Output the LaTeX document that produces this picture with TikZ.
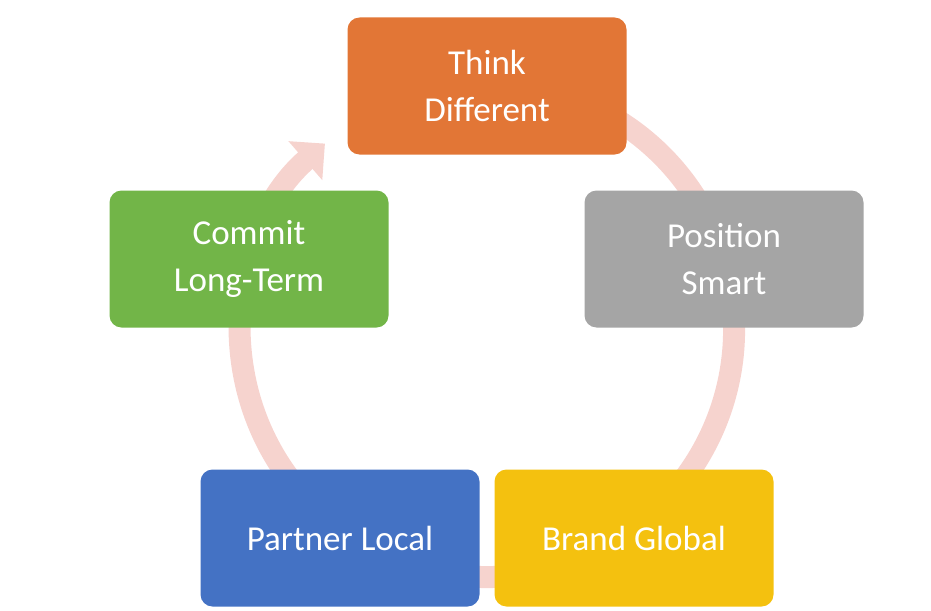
\documentclass[tikz,border=0pt]{standalone}
\usepackage{fontspec}
\setmainfont{Carlito}
\usetikzlibrary{arrows.meta}
\definecolor{ringpink}{HTML}{F6D3CE}
\definecolor{thinkorange}{HTML}{E27636}
\definecolor{positiongray}{HTML}{A5A5A5}
\definecolor{brandyellow}{HTML}{F4C10F}
\definecolor{partnerblue}{HTML}{4472C4}
\definecolor{commitgreen}{HTML}{72B548}
\tikzset{
  stepcard/.style={rounded corners=12pt, minimum width=279pt, minimum height=137pt,
    text=white, align=center, font=\fontsize{35}{47}\selectfont, inner sep=0pt},
  ring/.style={ringpink, line width=22pt, -{Triangle[length=26pt,width=50pt]}}
}
\begin{document}
\begin{tikzpicture}[x=1pt, y=-1pt]
	\useasboundingbox (0,0) rectangle (931,610);

	% Ring behind the cards
	\coordinate (hub) at (487,330);
	\draw[ring] ([shift={(-110:247)}]hub) arc[start angle=-110, end angle=229, radius=247];

	% Cards
	\node[stepcard, fill=thinkorange]  (think)    at (487,86)  {Think\\Different};
	\node[stepcard, fill=positiongray] (position) at (724,259) {Position\\Smart};
	\node[stepcard, fill=brandyellow]  (brand)    at (634,538) {Brand Global};
	\node[stepcard, fill=partnerblue]  (partner)  at (340,538) {Partner Local};
	\node[stepcard, fill=commitgreen]  (commit)   at (249,259) {Commit\\Long-Term};

\end{tikzpicture}
\end{document}
